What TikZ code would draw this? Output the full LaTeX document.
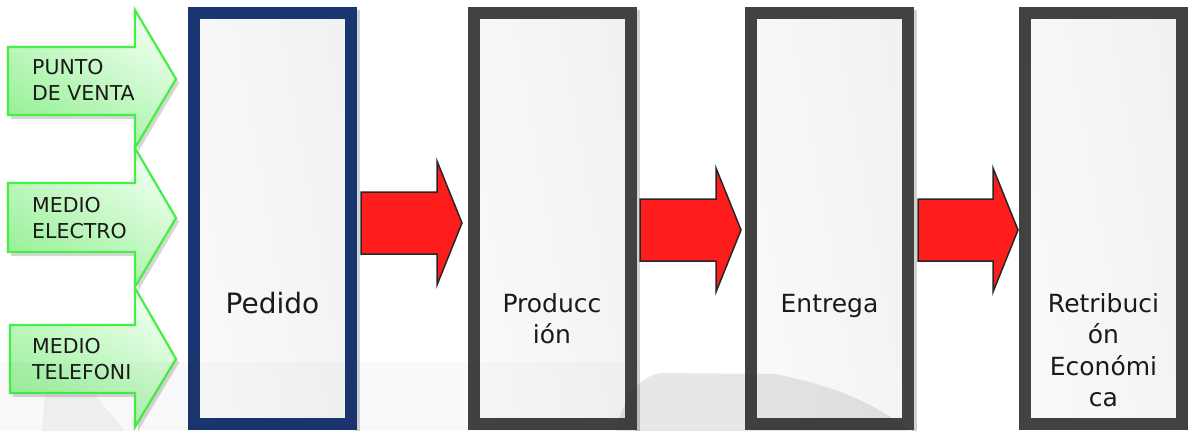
\documentclass[tikz,border=0pt]{standalone}
\usepackage{fontspec}
\setmainfont{DejaVu Sans}
\definecolor{navy}{RGB}{26,54,112}
\definecolor{dgray}{RGB}{66,66,66}
\definecolor{redfill}{RGB}{255,28,28}
\definecolor{gborder}{RGB}{70,238,70}
\definecolor{gdark}{RGB}{150,240,150}
\definecolor{glight}{RGB}{238,255,238}
\definecolor{txt}{RGB}{26,26,26}
\definecolor{wm}{RGB}{40,40,60}
\begin{document}
\begin{tikzpicture}[x=1pt,y=-1pt,
  stagebox/.style={draw=dgray, line width=12pt, minimum width=157pt, minimum height=411pt,
     inner sep=0pt, left color=gray!4, right color=gray!11, shading angle=100},
  firstbox/.style={stagebox, draw=navy},
  boxshadow/.style={fill=gray!35, draw=none},
  garrow/.style={draw=gborder, line width=2.2pt, shading=axis, top color=glight, bottom color=gdark, shading angle=-30},
  gshadow/.style={fill=gray!45, draw=none, opacity=0.7},
  rarrow/.style={fill=redfill, draw=black!85, line width=1.5pt, line join=miter},
  glabel/.style={anchor=base west, inner sep=0pt, align=left, text=txt, font=\fontsize{20.5}{26}\selectfont},
  blabel/.style={anchor=base, inner sep=0pt, align=center, text=txt, font=\fontsize{25}{31.5}\selectfont},
]
\useasboundingbox (0,0) rectangle (1188,431);
\fill[white] (0,0) rectangle (1188,431);

% box shadows
\foreach \x in {272.5,552,829.5} {\fill[boxshadow] (\x+84.5-2,10) rectangle (\x+84.5+3,431);}

% stage boxes
\node[firstbox] (pedido) at (272.5,218.5) {};
\node[stagebox] (produccion) at (552,218.5) {};
\node[stagebox] (entrega) at (829.5,218.5) {};
\node[stagebox] (retribucion) at (1103.5,218.5) {};

% box labels (anchor base = baseline of last line)
\node[blabel, font=\fontsize{28}{34}\selectfont] (tpedido) at (272.5,313) {Pedido};
\node[blabel] (tproduccion) at (552,343.5) {Producc\\ión};
\node[blabel] (tentrega) at (829.5,312) {Entrega};
\node[blabel] (tretribucion) at (1103.5,406.5) {Retribuci\\ón\\Económi\\ca};

% green arrows: shadows
\begin{scope}[shift={(3,4)}]
\fill[gshadow] (8,47) -- (135,47) -- (135,10) -- (176,79) -- (135,148) -- (135,115) -- (8,115) -- cycle;
\fill[gshadow] (8,183) -- (135,183) -- (135,148) -- (176,218) -- (135,287) -- (135,252) -- (8,252) -- cycle;
\fill[gshadow] (10,325) -- (135,325) -- (135,288) -- (176,359) -- (135,427) -- (135,393) -- (10,393) -- cycle;
\end{scope}
% green arrows
\path[garrow] (8,47) -- (135,47) -- (135,10) -- (176,79) -- (135,148) -- (135,115) -- (8,115) -- cycle;
\path[garrow] (8,183) -- (135,183) -- (135,148) -- (176,218) -- (135,287) -- (135,252) -- (8,252) -- cycle;
\path[garrow] (10,325) -- (135,325) -- (135,288) -- (176,359) -- (135,427) -- (135,393) -- (10,393) -- cycle;

\node[glabel] (punto) at (32,100) {PUNTO\\DE VENTA};
\node[glabel] (electro) at (32,238) {MEDIO\\ELECTRO};
\node[glabel] (telefono) at (32,379) {MEDIO\\TELEFONI};

% red block arrows
\path[rarrow] (361,192) -- (437,192) -- (437,161) -- (462,223) -- (437,285) -- (437,254) -- (361,254) -- cycle;
\path[rarrow] (640,199) -- (716,199) -- (716,168) -- (741,230) -- (716,292) -- (716,261) -- (640,261) -- cycle;
\path[rarrow] (918,199) -- (993,199) -- (993,168) -- (1018,230) -- (993,292) -- (993,261) -- (918,261) -- cycle;

% faint watermark
\fill[wm, opacity=0.025] (0,362) rectangle (640,431);
\fill[wm, opacity=0.11] (615,431) .. controls (625,400) and (635,378) .. (660,373) -- (775,374) .. controls (830,385) and (870,400) .. (910,431) -- cycle;
\fill[wm, opacity=0.05] (42,431) -- (45,395) -- (95,395) -- (125,431) -- cycle;
\end{tikzpicture}
\end{document}
